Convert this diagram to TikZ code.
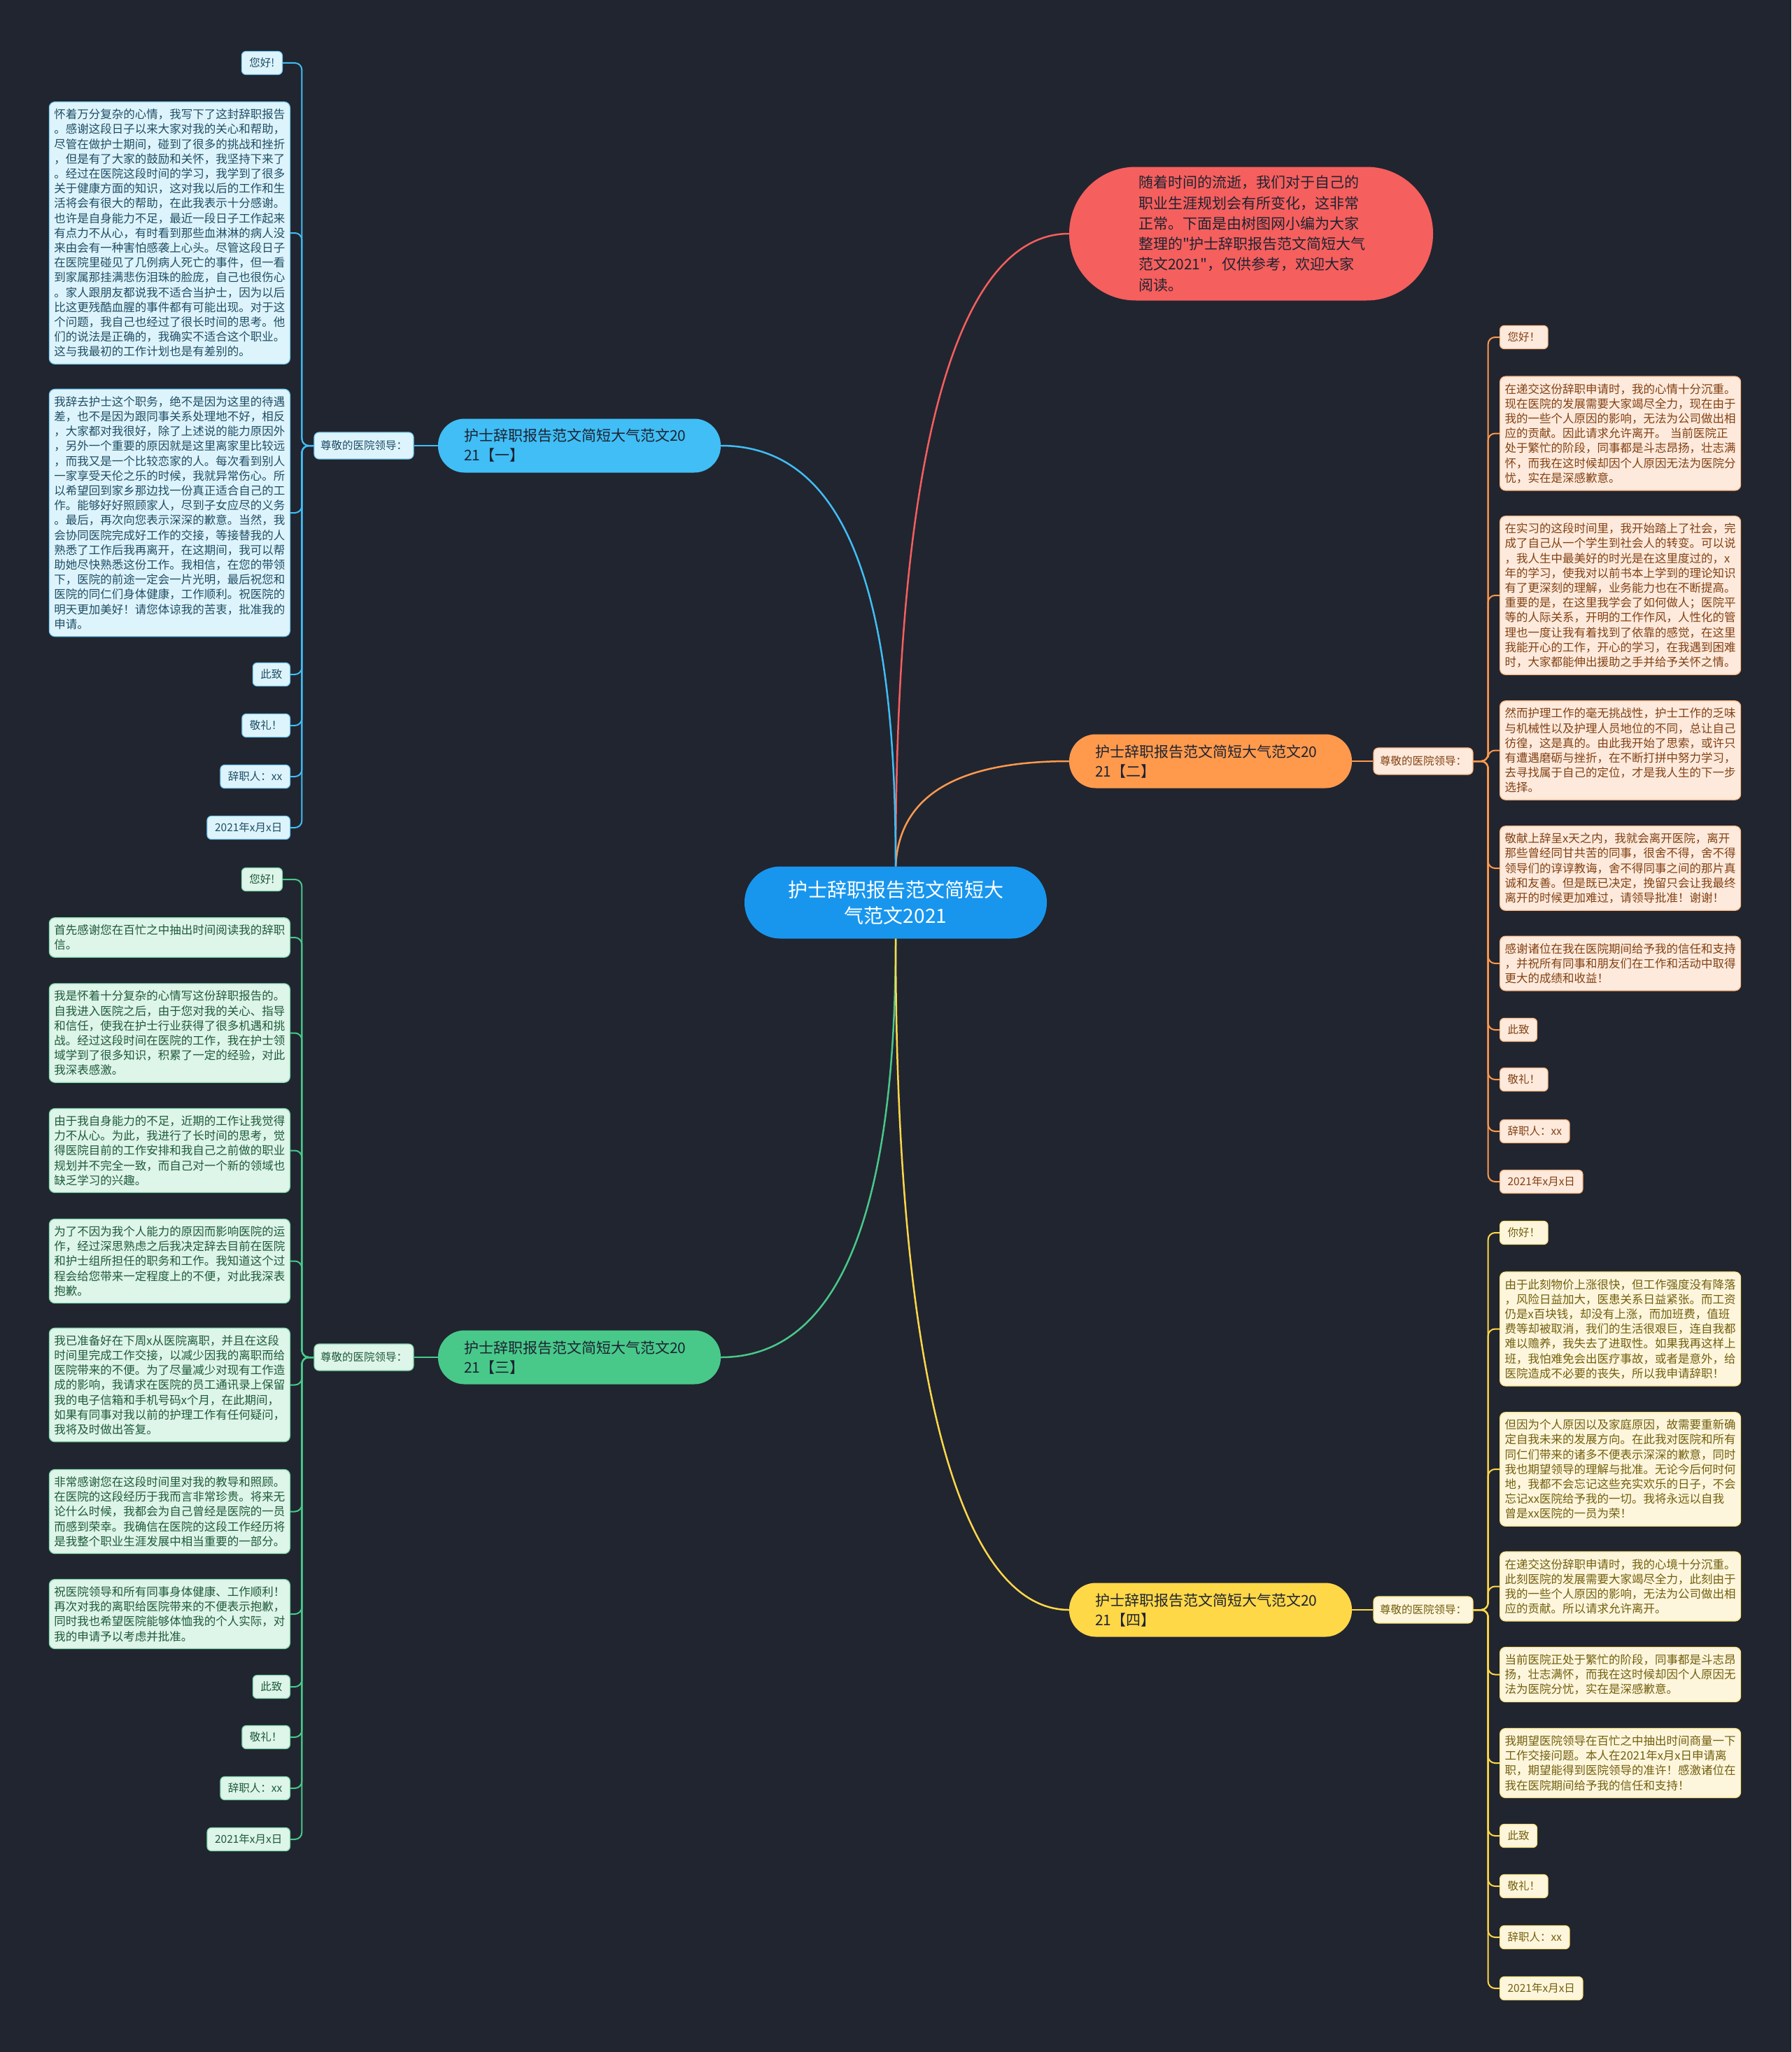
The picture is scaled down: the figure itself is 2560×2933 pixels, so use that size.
\documentclass[tikz,border=0pt]{standalone}
\usepackage{fontspec}
\setmainfont{Noto Sans CJK SC}
\newfontfamily\qfont{Noto Sans CJK SC}
\definecolor{bgc}{RGB}{33,37,48}
\definecolor{ctrc}{RGB}{24,150,238}
\definecolor{redc}{RGB}{245,95,93}
\definecolor{bluec}{RGB}{64,190,245}
\definecolor{orgc}{RGB}{255,154,77}
\definecolor{grnc}{RGB}{72,201,138}
\definecolor{ylwc}{RGB}{255,216,72}
\definecolor{bluef}{RGB}{222,244,252}
\definecolor{bluet}{RGB}{30,78,100}
\definecolor{orgf}{RGB}{253,234,220}
\definecolor{orgt}{RGB}{130,65,20}
\definecolor{grnf}{RGB}{222,245,233}
\definecolor{grnt}{RGB}{30,90,58}
\definecolor{ylwf}{RGB}{253,246,220}
\definecolor{ylwt}{RGB}{115,95,15}
\definecolor{darkt}{RGB}{30,35,50}
\tikzset{
  blk/.style={rounded corners=8, line width=1.2, inner xsep=7, inner ysep=10, align=left, text width=330, font=\fontsize{16.5}{21.2}\selectfont},
  sml/.style={rounded corners=6, line width=1.2, inner xsep=11, inner ysep=4, minimum height=33, font=\fontsize{15.5}{18}\selectfont},
  lbl/.style={rounded corners=7, line width=1.2, inner xsep=9, inner ysep=4, minimum height=38, font=\fontsize{15.5}{18}\selectfont},
  bluek/.style={fill=bluef, draw=bluec!70, text=bluet},
  orgk/.style={fill=orgf, draw=orgc!70, text=orgt},
  grnk/.style={fill=grnf, draw=grnc!70, text=grnt},
  ylwk/.style={fill=ylwf, draw=ylwc!70, text=ylwt},
  brn/.style={rounded corners=38, minimum height=77, minimum width=404, inner xsep=0, inner ysep=0, align=left, text width=330, font=\fontsize{21}{28}\selectfont, text=darkt},
  trunk/.style={line width=2, rounded corners=10},
  mainln/.style={line width=2.5},
}
\begin{document}
\begin{tikzpicture}[x=1pt,y=-1pt]
\useasboundingbox (0,0) rectangle (2560,2933);
\fill[bgc] (0,0) rectangle (2560,2933);

% centre and intro
\node[fill=ctrc, text=white, rounded corners=51, minimum width=432, minimum height=103, align=center, font=\fontsize{28}{37}\selectfont] (c) at (1280,1290) {护士辞职报告范文简短大\\气范文2021};
\node[fill=redc, text=darkt, rounded corners=95, minimum width=520, minimum height=191, text width=322, align=left, font=\fontsize{21}{29.3}\selectfont] (r) at (1788,334) {随着时间的流逝，我们对于自己的\\职业生涯规划会有所变化，这非常\\正常。下面是由树图网小编为大家\\整理的{\qfont"}护士辞职报告范文简短大气\\范文2021{\qfont"}，仅供参考，欢迎大家\\阅读。};

% branch nodes
\node[brn, fill=bluec] (b1) at (828,637) {护士辞职报告范文简短大气范文20\\21【一】};
\node[brn, fill=orgc] (b2) at (1730,1088) {护士辞职报告范文简短大气范文20\\21【二】};
\node[brn, fill=grnc] (b3) at (828,1940) {护士辞职报告范文简短大气范文20\\21【三】};
\node[brn, fill=ylwc] (b4) at (1730,2301) {护士辞职报告范文简短大气范文20\\21【四】};

\node[lbl, bluek] (l1) at (520,637) {尊敬的医院领导：};
\node[lbl, orgk] (l2) at (2034,1088) {尊敬的医院领导：};
\node[lbl, grnk] (l3) at (520,1940) {尊敬的医院领导：};
\node[lbl, ylwk] (l4) at (2034,2301) {尊敬的医院领导：};

% main connectors
\draw[mainln, redc] (c.north) .. controls (1280,600) and (1380,334) .. (r.west);
\draw[mainln, orgc] (c.north) .. controls (1285,1130) and (1380,1088) .. (b2.west);
\draw[mainln, bluec] (b1.east) .. controls (1230,637) and (1280,900) .. (c.north);
\draw[mainln, grnc] (b3.east) .. controls (1230,1940) and (1280,1650) .. (c.south);
\draw[mainln, ylwc] (c.south) .. controls (1280,2000) and (1380,2301) .. (b4.west);
\draw[line width=2, bluec] (b1.west) -- (l1.east);
\draw[line width=2, orgc] (b2.east) -- (l2.west);
\draw[line width=2, grnc] (b3.west) -- (l3.east);
\draw[line width=2, ylwc] (b4.east) -- (l4.west);

% ---------- branch 1 (blue, left)
\node[sml, bluek, anchor=east] (a1) at (404,90) {您好!};
\node[blk, bluek, anchor=east] (a2) at (415,333) {怀着万分复杂的心情，我写下了这封辞职报告\\。感谢这段日子以来大家对我的关心和帮助，\\尽管在做护士期间，碰到了很多的挑战和挫折\\，但是有了大家的鼓励和关怀，我坚持下来了\\。经过在医院这段时间的学习，我学到了很多\\关于健康方面的知识，这对我以后的工作和生\\活将会有很大的帮助，在此我表示十分感谢。\\也许是自身能力不足，最近一段日子工作起来\\有点力不从心，有时看到那些血淋淋的病人没\\来由会有一种害怕感袭上心头。尽管这段日子\\在医院里碰见了几例病人死亡的事件，但一看\\到家属那挂满悲伤泪珠的脸庞，自己也很伤心\\。家人跟朋友都说我不适合当护士，因为以后\\比这更残酷血腥的事件都有可能出现。对于这\\个问题，我自己也经过了很长时间的思考。他\\们的说法是正确的，我确实不适合这个职业。\\这与我最初的工作计划也是有差别的。};
\node[blk, bluek, anchor=east] (a3) at (415,733) {我辞去护士这个职务，绝不是因为这里的待遇\\差，也不是因为跟同事关系处理地不好，相反\\，大家都对我很好，除了上述说的能力原因外\\，另外一个重要的原因就是这里离家里比较远\\，而我又是一个比较恋家的人。每次看到别人\\一家享受天伦之乐的时候，我就异常伤心。所\\以希望回到家乡那边找一份真正适合自己的工\\作。能够好好照顾家人，尽到子女应尽的义务\\。最后，再次向您表示深深的歉意。当然，我\\会协同医院完成好工作的交接，等接替我的人\\熟悉了工作后我再离开，在这期间，我可以帮\\助她尽快熟悉这份工作。我相信，在您的带领\\下，医院的前途一定会一片光明，最后祝您和\\医院的同仁们身体健康，工作顺利。祝医院的\\明天更加美好！请您体谅我的苦衷，批准我的\\申请。};
\node[sml, bluek, anchor=east] (a4) at (415,964) {此致};
\node[sml, bluek, anchor=east] (a5) at (415,1037) {敬礼！};
\node[sml, bluek, anchor=east] (a6) at (415,1110) {辞职人：xx};
\node[sml, bluek, anchor=east] (a7) at (415,1183) {2021年x月x日};
\foreach \n in {a1,a2,a3,a4,a5,a6,a7}
  \draw[trunk, bluec] (l1.west) -- ++(-17,0) |- (\n.east);

% ---------- branch 2 (orange, right)
\node[sml, orgk, anchor=west] (o1) at (2143,482) {您好！};
\node[blk, orgk, anchor=west] (o2) at (2143,619.5) {在递交这份辞职申请时，我的心情十分沉重。\\现在医院的发展需要大家竭尽全力，现在由于\\我的一些个人原因的影响，无法为公司做出相\\应的贡献。因此请求允许离开。 当前医院正\\处于繁忙的阶段，同事都是斗志昂扬，壮志满\\怀，而我在这时候却因个人原因无法为医院分\\忧，实在是深感歉意。};
\node[blk, orgk, anchor=west] (o3) at (2143,851) {在实习的这段时间里，我开始踏上了社会，完\\成了自己从一个学生到社会人的转变。可以说\\，我人生中最美好的时光是在这里度过的，x\\年的学习，使我对以前书本上学到的理论知识\\有了更深刻的理解，业务能力也在不断提高。\\重要的是，在这里我学会了如何做人；医院平\\等的人际关系，开明的工作作风，人性化的管\\理也一度让我有着找到了依靠的感觉，在这里\\我能开心的工作，开心的学习，在我遇到困难\\时，大家都能伸出援助之手并给予关怀之情。};
\node[blk, orgk, anchor=west] (o4) at (2143,1072.5) {然而护理工作的毫无挑战性，护士工作的乏味\\与机械性以及护理人员地位的不同，总让自己\\彷徨，这是真的。由此我开始了思索，或许只\\有遭遇磨砺与挫折，在不断打拼中努力学习，\\去寻找属于自己的定位，才是我人生的下一步\\选择。};
\node[blk, orgk, anchor=west] (o5) at (2143,1241) {敬献上辞呈x天之内，我就会离开医院，离开\\那些曾经同甘共苦的同事，很舍不得，舍不得\\领导们的谆谆教诲，舍不得同事之间的那片真\\诚和友善。但是既已决定，挽留只会让我最终\\离开的时候更加难过，请领导批准！谢谢！};
\node[blk, orgk, anchor=west] (o6) at (2143,1377) {感谢诸位在我在医院期间给予我的信任和支持\\，并祝所有同事和朋友们在工作和活动中取得\\更大的成绩和收益！};
\node[sml, orgk, anchor=west] (o7) at (2143,1472) {此致};
\node[sml, orgk, anchor=west] (o8) at (2143,1543) {敬礼！};
\node[sml, orgk, anchor=west] (o9) at (2143,1617) {辞职人：xx};
\node[sml, orgk, anchor=west] (o10) at (2143,1689) {2021年x月x日};
\foreach \n in {o1,o2,o3,o4,o5,o6,o7,o8,o9,o10}
  \draw[trunk, orgc] (l2.east) -- ++(21,0) |- (\n.west);

% ---------- branch 3 (green, left)
\node[sml, grnk, anchor=east] (g1) at (404,1257) {您好!};
\node[blk, grnk, anchor=east] (g2) at (415,1340) {首先感谢您在百忙之中抽出时间阅读我的辞职\\信。};
\node[blk, grnk, anchor=east] (g3) at (415,1476.5) {我是怀着十分复杂的心情写这份辞职报告的。\\自我进入医院之后，由于您对我的关心、指导\\和信任，使我在护士行业获得了很多机遇和挑\\战。经过这段时间在医院的工作，我在护士领\\域学到了很多知识，积累了一定的经验，对此\\我深表感激。};
\node[blk, grnk, anchor=east] (g4) at (415,1644.5) {由于我自身能力的不足，近期的工作让我觉得\\力不从心。为此，我进行了长时间的思考，觉\\得医院目前的工作安排和我自己之前做的职业\\规划并不完全一致，而自己对一个新的领域也\\缺乏学习的兴趣。};
\node[blk, grnk, anchor=east] (g5) at (415,1802.5) {为了不因为我个人能力的原因而影响医院的运\\作，经过深思熟虑之后我决定辞去目前在医院\\和护士组所担任的职务和工作。我知道这个过\\程会给您带来一定程度上的不便，对此我深表\\抱歉。};
\node[blk, grnk, anchor=east] (g6) at (415,1979.5) {我已准备好在下周x从医院离职，并且在这段\\时间里完成工作交接，以减少因我的离职而给\\医院带来的不便。为了尽量减少对现有工作造\\成的影响，我请求在医院的员工通讯录上保留\\我的电子信箱和手机号码x个月，在此期间，\\如果有同事对我以前的护理工作有任何疑问，\\我将及时做出答复。};
\node[blk, grnk, anchor=east] (g7) at (415,2160.5) {非常感谢您在这段时间里对我的教导和照顾。\\在医院的这段经历于我而言非常珍贵。将来无\\论什么时候，我都会为自己曾经是医院的一员\\而感到荣幸。我确信在医院的这段工作经历将\\是我整个职业生涯发展中相当重要的一部分。};
\node[blk, grnk, anchor=east] (g8) at (415,2307) {祝医院领导和所有同事身体健康、工作顺利！\\再次对我的离职给医院带来的不便表示抱歉，\\同时我也希望医院能够体恤我的个人实际，对\\我的申请予以考虑并批准。};
\node[sml, grnk, anchor=east] (g9) at (415,2411) {此致};
\node[sml, grnk, anchor=east] (g10) at (415,2483) {敬礼！};
\node[sml, grnk, anchor=east] (g11) at (415,2556) {辞职人：xx};
\node[sml, grnk, anchor=east] (g12) at (415,2629) {2021年x月x日};
\foreach \n in {g1,g2,g3,g4,g5,g6,g7,g8,g9,g10,g11,g12}
  \draw[trunk, grnc] (l3.west) -- ++(-17,0) |- (\n.east);

% ---------- branch 4 (yellow, right)
\node[sml, ylwk, anchor=west] (y1) at (2143,1762) {你好！};
\node[blk, ylwk, anchor=west] (y2) at (2143,1899.5) {由于此刻物价上涨很快，但工作强度没有降落\\，风险日益加大，医患关系日益紧张。而工资\\仍是x百块钱，却没有上涨，而加班费，值班\\费等却被取消，我们的生活很艰巨，连自我都\\难以赡养，我失去了进取性。如果我再这样上\\班，我怕难免会出医疗事故，或者是意外，给\\医院造成不必要的丧失，所以我申请辞职！};
\node[blk, ylwk, anchor=west] (y3) at (2143,2100) {但因为个人原因以及家庭原因，故需要重新确\\定自我未来的发展方向。在此我对医院和所有\\同仁们带来的诸多不便表示深深的歉意，同时\\我也期望领导的理解与批准。无论今后何时何\\地，我都不会忘记这些充实欢乐的日子，不会\\忘记xx医院给予我的一切。我将永远以自我\\曾是xx医院的一员为荣！};
\node[blk, ylwk, anchor=west] (y4) at (2143,2267.5) {在递交这份辞职申请时，我的心境十分沉重。\\此刻医院的发展需要大家竭尽全力，此刻由于\\我的一些个人原因的影响，无法为公司做出相\\应的贡献。所以请求允许离开。};
\node[blk, ylwk, anchor=west] (y5) at (2143,2393.5) {当前医院正处于繁忙的阶段，同事都是斗志昂\\扬，壮志满怀，而我在这时候却因个人原因无\\法为医院分忧，实在是深感歉意。};
\node[blk, ylwk, anchor=west] (y6) at (2143,2520) {我期望医院领导在百忙之中抽出时间商量一下\\工作交接问题。本人在2021年x月x日申请离\\职，期望能得到医院领导的准许！感激诸位在\\我在医院期间给予我的信任和支持！};
\node[sml, ylwk, anchor=west] (y7) at (2143,2624) {此致};
\node[sml, ylwk, anchor=west] (y8) at (2143,2696) {敬礼！};
\node[sml, ylwk, anchor=west] (y9) at (2143,2769) {辞职人：xx};
\node[sml, ylwk, anchor=west] (y10) at (2143,2842) {2021年x月x日};
\foreach \n in {y1,y2,y3,y4,y5,y6,y7,y8,y9,y10}
  \draw[trunk, ylwc] (l4.east) -- ++(21,0) |- (\n.west);
\end{tikzpicture}
\end{document}
